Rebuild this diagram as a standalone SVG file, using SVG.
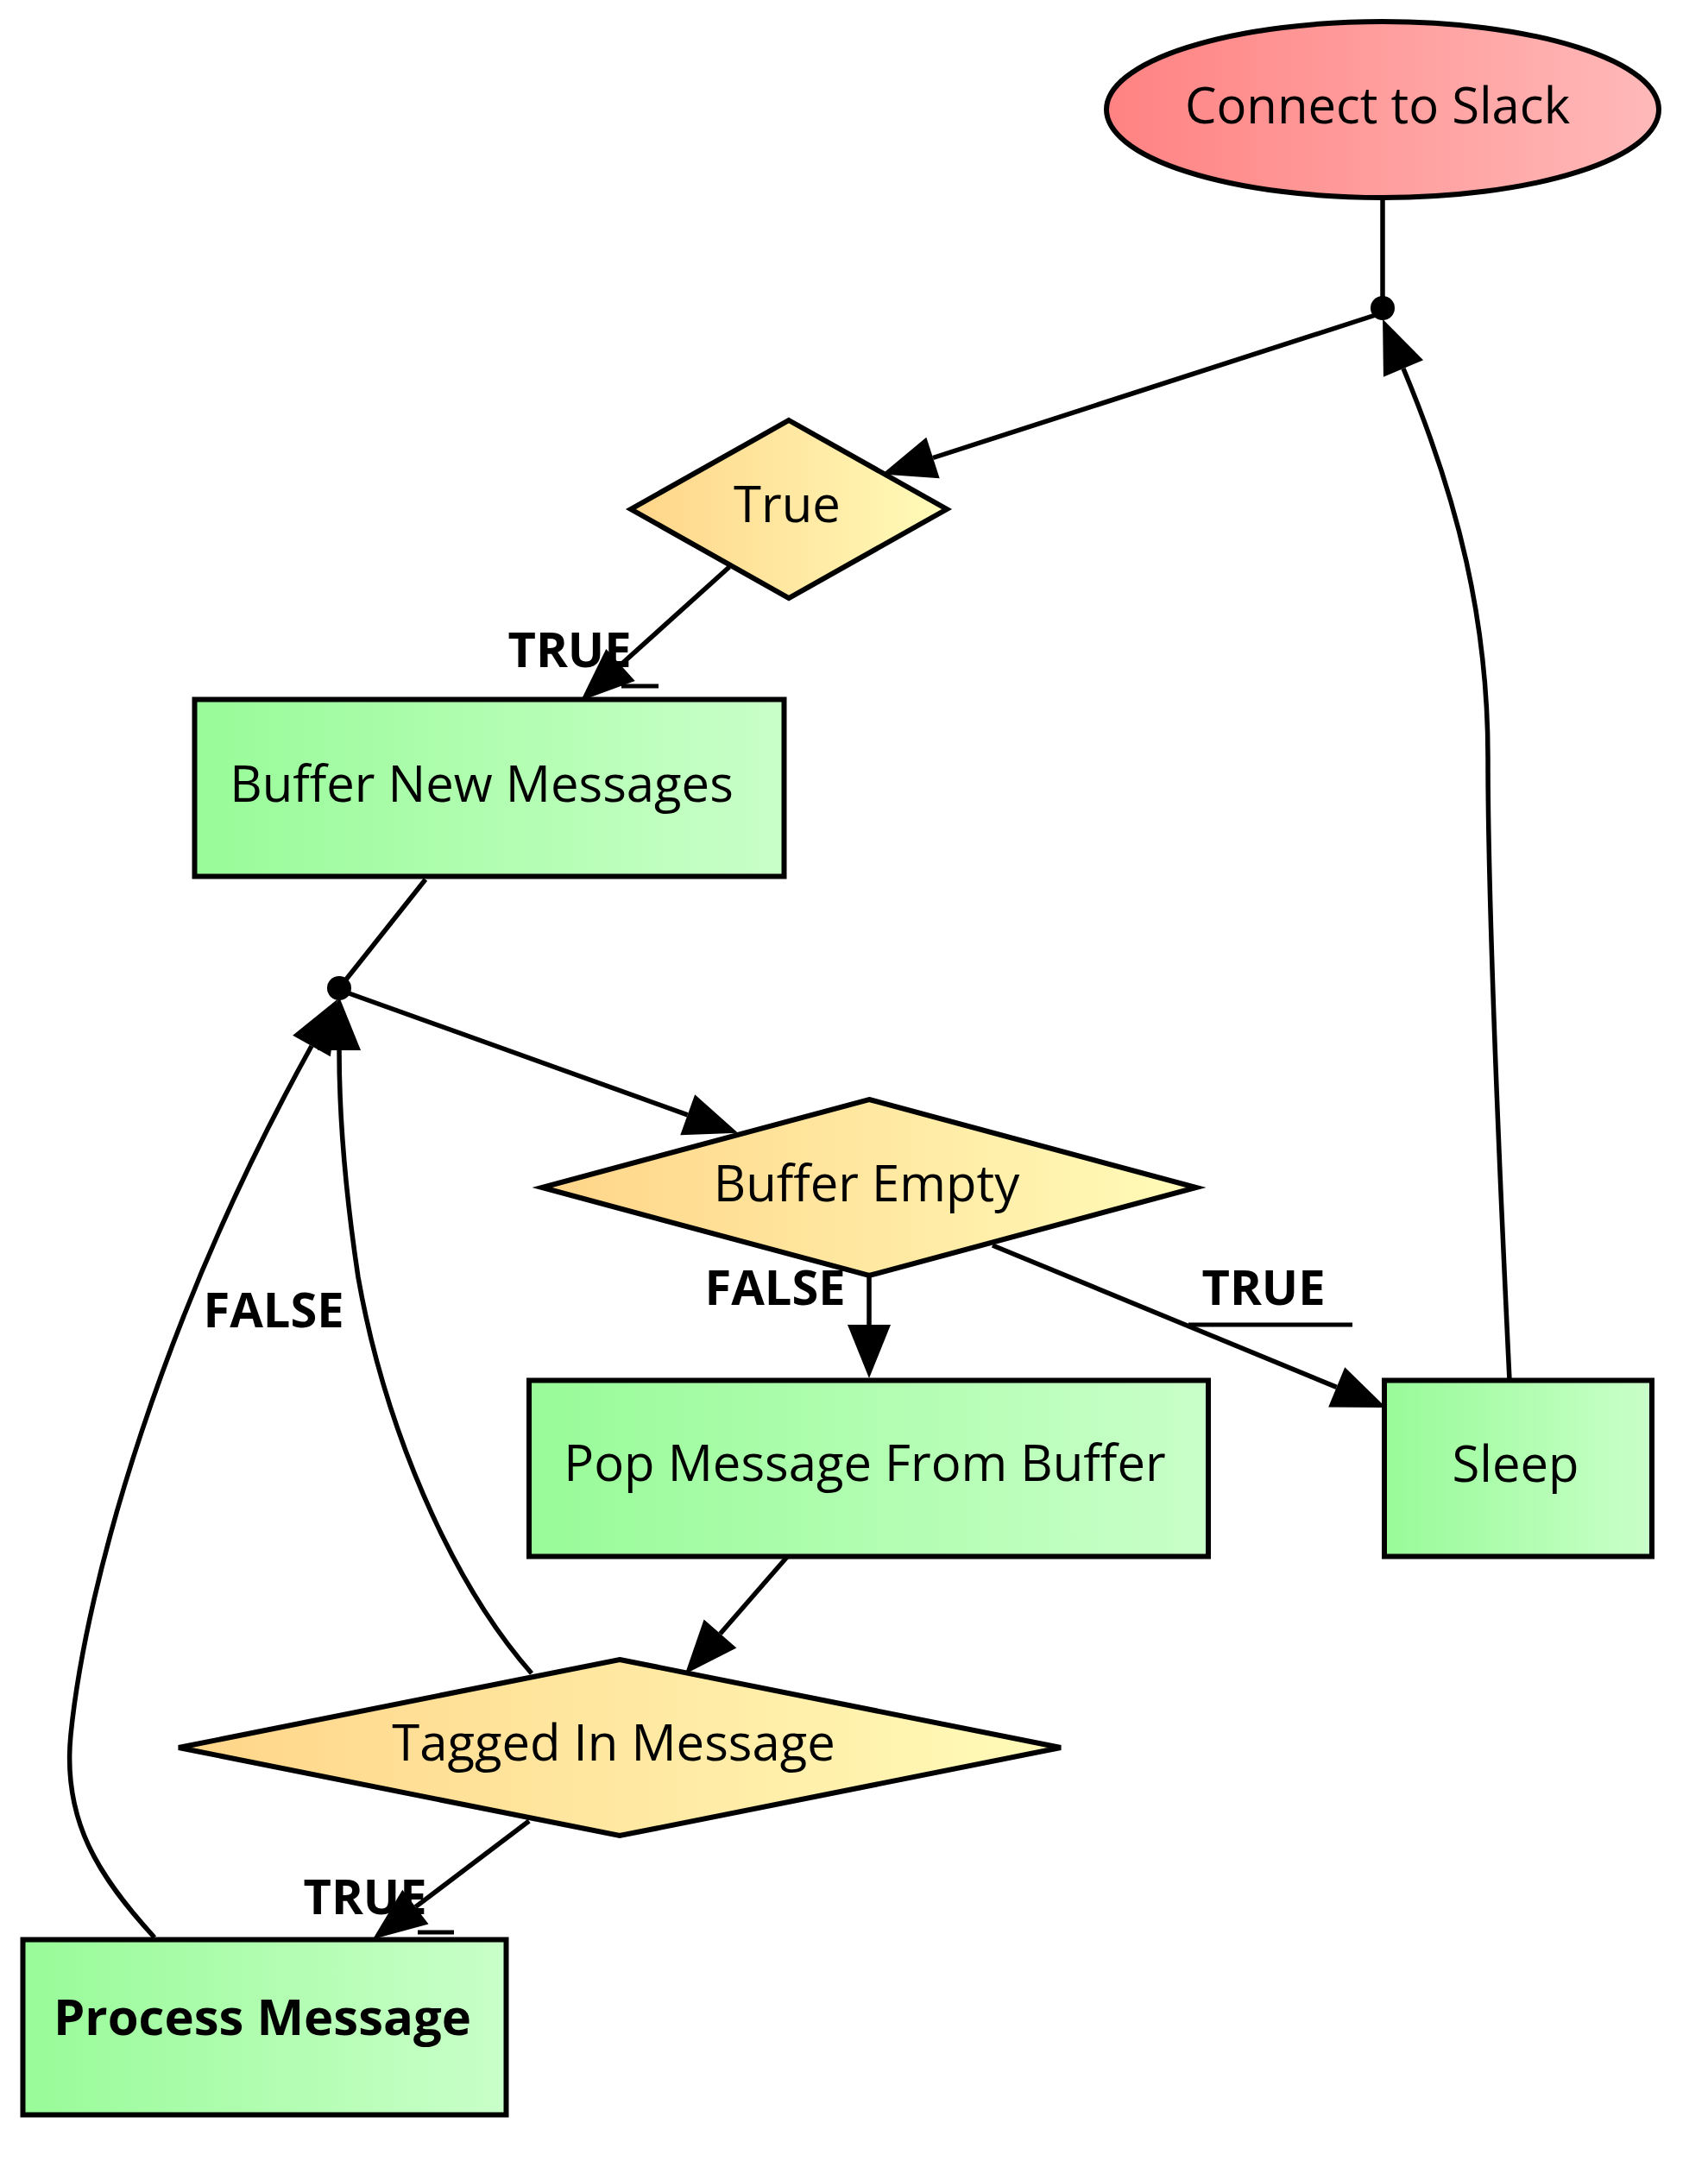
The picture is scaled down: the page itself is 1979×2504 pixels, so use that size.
<svg xmlns="http://www.w3.org/2000/svg" width="1979" height="2504" viewBox="0 0 1979 2504">
<defs>
<linearGradient id="gRed" x1="0" y1="0" x2="1" y2="0"><stop offset="0" stop-color="#ff8282"/><stop offset="1" stop-color="#ffb9b9"/></linearGradient>
<linearGradient id="gGreen" x1="0" y1="0" x2="1" y2="0"><stop offset="0" stop-color="#98fb98"/><stop offset="1" stop-color="#c9ffc9"/></linearGradient>
<linearGradient id="gYel" x1="0" y1="0" x2="1" y2="0"><stop offset="0" stop-color="#ffd589"/><stop offset="1" stop-color="#fffbb9"/></linearGradient>
<marker id="arr" markerUnits="userSpaceOnUse" markerWidth="64" markerHeight="50" viewBox="0 0 64 50" refX="0" refY="25" orient="auto" overflow="visible"><path d="M0,0 L62,25 L0,50 z" fill="#000"/></marker>
<style>
.shape{stroke:#000;stroke-width:6}
.lbl{font-family:"Open Sans","DejaVu Sans",sans-serif;font-size:58px;fill:#000;text-anchor:middle}
.bold{font-weight:bold}
.elab{font-family:"Open Sans","DejaVu Sans",sans-serif;font-size:56px;font-weight:bold;fill:#000;text-anchor:middle}
.edge{fill:none;stroke:#000;stroke-width:5.5}
.arrow{marker-end:url(#arr)}
.uline{stroke:#000;stroke-width:5}
</style>
</defs>
<rect width="1979" height="2504" fill="#fff"/>
<g id="n_connect"><ellipse class="shape" cx="1602" cy="127" rx="320" ry="102" fill="url(#gRed)"/><text class="lbl" x="1596" y="143">Connect to Slack</text></g>
<g id="n_true"><polygon class="shape" points="914,487 1097,590 914,693 731,590" fill="url(#gYel)"/><text class="lbl" x="912" y="605">True</text></g>
<g id="n_buffer"><rect class="shape" x="225.5" y="810.5" width="683" height="205" fill="url(#gGreen)"/><text class="lbl" x="558" y="929">Buffer New Messages</text></g>
<g id="n_empty"><polygon class="shape" points="1007,1274 1386,1376 1007,1478 628,1376" fill="url(#gYel)"/><text class="lbl" x="1004" y="1392">Buffer Empty</text></g>
<g id="n_pop"><rect class="shape" x="613" y="1599.5" width="787" height="204" fill="url(#gGreen)"/><text class="lbl" x="1002" y="1716">Pop Message From Buffer</text></g>
<g id="n_sleep"><rect class="shape" x="1604" y="1599.5" width="310" height="204" fill="url(#gGreen)"/><text class="lbl" x="1756" y="1717">Sleep</text></g>
<g id="n_tagged"><polygon class="shape" points="718,1923 1229,2025 718,2127 207,2025" fill="url(#gYel)"/><text class="lbl" x="711" y="2040">Tagged In Message</text></g>
<g id="n_process"><rect class="shape" x="26.5" y="2247.5" width="560" height="203" fill="url(#gGreen)"/><text class="lbl bold" x="304" y="2358">Process Message</text></g>
<g id="connectors">
<path class="edge" d="M1602,229 L1602,358"/>
<path class="edge arrow" d="M1600,363 L1081,530.5"/>
<path class="edge arrow" d="M845,657 L719,770.5"/>
<path class="edge" d="M493,1019 L393,1145"/>
<path class="edge arrow" d="M396,1148 L796.7,1291.8"/>
<path class="edge arrow" d="M1007,1478 L1007,1535"/>
<path class="edge arrow" d="M1150,1443 L1548.7,1607.4"/>
<path class="edge arrow" d="M1749,1599 C1737,1350 1724,1050 1724,878 C1724,720 1690,580 1626,427"/>
<path class="edge arrow" d="M912,1804 L834.5,1893"/>
<path class="edge arrow" d="M616,1939 C520,1830 445,1650 415,1480 C400,1380 393,1290 393,1217"/>
<path class="edge arrow" d="M179,2245 C115,2175 72,2110 82,2010 C100,1830 190,1520 361,1212"/>
<path class="edge arrow" d="M613,2110 L481.4,2209.6"/>
<line class="uline" x1="720" y1="795" x2="763" y2="795"/>
<line class="uline" x1="1377" y1="1535" x2="1567" y2="1535"/>
<line class="uline" x1="484" y1="2239" x2="526" y2="2239"/>
<text class="elab" x="660" y="773">TRUE</text>
<text class="elab" x="1464" y="1512">TRUE</text>
<text class="elab" x="898" y="1512">FALSE</text>
<text class="elab" x="317" y="1538">FALSE</text>
<text class="elab" x="423" y="2218">TRUE</text>
</g>
<g id="j_top"><circle cx="1602" cy="357" r="14" fill="#000"/></g>
<g id="j_mid"><circle cx="393" cy="1145" r="14" fill="#000"/></g>
</svg>
